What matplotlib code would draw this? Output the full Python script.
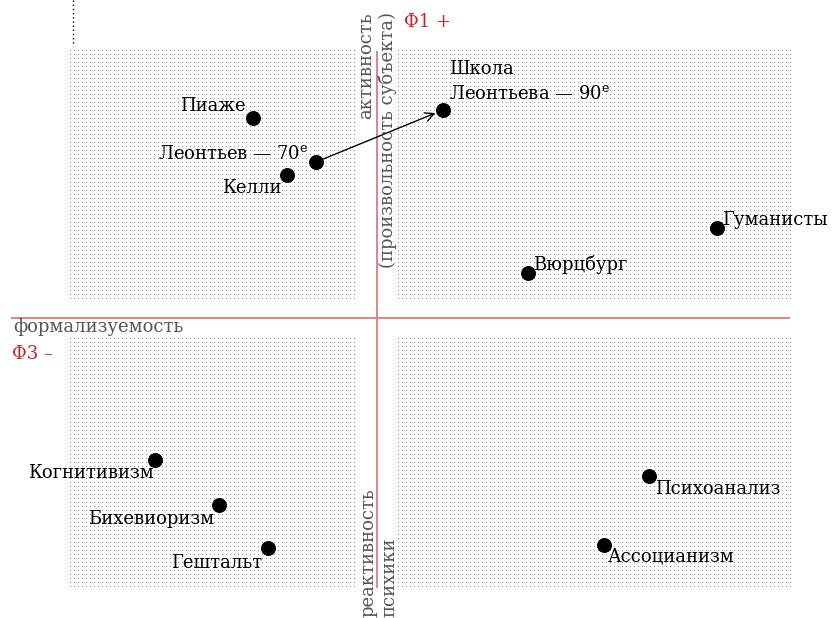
import numpy as np
import matplotlib
matplotlib.use("Agg")
import matplotlib.pyplot as plt

plt.rcParams['font.family'] = ['DejaVu Serif']
plt.rcParams['mathtext.fontset'] = 'custom'
plt.rcParams['mathtext.rm'] = 'DejaVu Serif'

# Data: schools positioned on Φ3 (horizontal) and Φ1 (vertical) axes
names = ["Пиаже", "Леонтьев — 70$^{\\mathrm{е}}$", "Келли",
         "Школа\nЛеонтьева — 90$^{\\mathrm{е}}$", "Гуманисты", "Вюрцбург",
         "Когнитивизм", "Бихевиоризм", "Гештальт", "Психоанализ", "Ассоцианизм"]
phi3 = [-1.24, -0.61, -0.90, 0.66, 3.40, 1.51, -2.22, -1.58, -1.09, 2.72, 2.27]
phi1 = [2.00, 1.56, 1.43, 2.08, 0.90, 0.45, -1.42, -1.87, -2.30, -1.58, -2.27]
# label offsets (pixels) and alignment
offsets = [(-7, 12), (-8, 8), (-5, -13), (6, 7), (5, 8), (5, 8),
           (-1, -13), (-5, -14), (-6, -15), (6, -13), (4, -12)]
aligns = [("right", "center"), ("right", "center"), ("right", "center"),
          ("left", "bottom"), ("left", "center"), ("left", "center"),
          ("right", "center"), ("right", "center"), ("right", "center"),
          ("left", "center"), ("left", "center")]

fig = plt.figure(figsize=(8.32, 6.18), dpi=100)
ax = fig.add_axes([0, 0, 1, 1])
ax.set_xlim(-3.77, 4.55)
ax.set_ylim(-3.00, 3.18)
ax.axis('off')

# dotted quadrant backgrounds
quads = [(-3.07, -0.19, 0.19, 2.68), (0.21, 4.14, 0.19, 2.68),
         (-3.07, -0.19, -2.69, -0.20), (0.21, 4.14, -2.69, -0.20)]
step = 0.04
for x0, x1, y0, y1 in quads:
    gx, gy = np.meshgrid(np.arange(x0, x1, step), np.arange(y0, y1, step))
    ax.plot(gx.ravel(), gy.ravel(), ',', color='#8c8c8c', zorder=1)

# axis lines
red = '#e08585'
ax.plot([0, 0], [2.66, -2.69], color=red, lw=1.4, zorder=2)
ax.plot([-3.65, 4.12], [0, 0], color=red, lw=1.4, zorder=2)

# small dotted line top-left
ax.plot([-3.04, -3.04], [3.18, 2.72], color='black', lw=1, ls=(0, (1, 2)), zorder=2)

# arrow
ax.annotate("", xy=(phi3[3] - 0.05, phi1[3] - 0.02), xytext=(phi3[1], phi1[1]),
            arrowprops=dict(arrowstyle='->', color='black', lw=1, mutation_scale=16),
            zorder=3)

ax.scatter(phi3, phi1, s=95, color='black', zorder=4)

fs = 13
for n, x, y, (dx, dy), (ha, va) in zip(names, phi3, phi1, offsets, aligns):
    ax.annotate(n, (x, y), xytext=(dx * 0.72, dy * 0.72), textcoords='offset points',
                ha=ha, va=va, fontsize=fs, color='black', zorder=5,
                linespacing=1.5)

gray = '#555555'
ax.text(-0.11, 3.06, "активность", rotation=90, ha='center', va='top',
        fontsize=fs, color=gray)
ax.text(0.11, 3.06, "(произвольность субъекта)", rotation=90, ha='center', va='top',
        fontsize=fs, color=gray)
ax.text(-0.09, -2.99, "реактивность", rotation=90, ha='center', va='bottom',
        fontsize=fs, color=gray)
ax.text(0.12, -2.99, "психики", rotation=90, ha='center', va='bottom',
        fontsize=fs, color=gray)
ax.text(-3.64, -0.09, "формализуемость", ha='left', va='center', fontsize=fs, color=gray)

redt = '#cc2027'
ax.text(-3.65, -0.36, "Φ3 –", ha='left', va='center', fontsize=fs, color=redt)
ax.text(0.27, 2.96, "Φ1 +", ha='left', va='center', fontsize=fs, color=redt)

fig.savefig("out.png", dpi=100)
